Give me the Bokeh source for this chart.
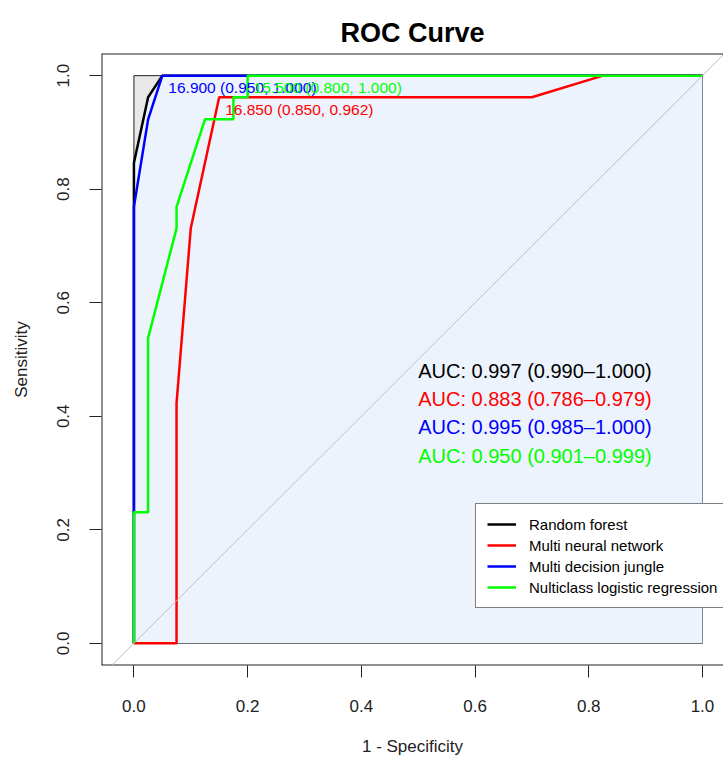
from bokeh.plotting import figure
from bokeh.models import Range1d, Slope, Span, Legend, LegendItem, FixedTicker, PrintfTickFormatter, ColumnDataSource
from bokeh.core.properties import value
from bokeh.embed import file_html
from bokeh.resources import INLINE

FONT = "Liberation Sans"

models = ["Random forest", "Multi neural network", "Multi decision jungle",
          "Nulticlass logistic regression"]
colors = ["#000000", "#FF0000", "#0000FF", "#00FF00"]

# ROC curves: x = 1 - specificity, y = sensitivity
rf_fpr = [0.0, 0.0, 0.025, 0.05, 1.0]
rf_tpr = [0.0, 0.846, 0.962, 1.0, 1.0]
nn_fpr = [0.0, 0.075, 0.075, 0.1, 0.15, 0.7, 0.825, 1.0]
nn_tpr = [0.0, 0.0, 0.423, 0.731, 0.962, 0.962, 1.0, 1.0]
dj_fpr = [0.0, 0.0, 0.025, 0.05, 1.0]
dj_tpr = [0.0, 0.769, 0.923, 1.0, 1.0]
lr_fpr = [0.0, 0.0, 0.025, 0.025, 0.075, 0.075, 0.125, 0.175, 0.175, 0.2, 0.2, 1.0]
lr_tpr = [0.0, 0.231, 0.231, 0.538, 0.731, 0.769, 0.923, 0.923, 0.962, 0.962, 1.0, 1.0]

auc = [0.997, 0.883, 0.995, 0.950]
auc_lo = [0.990, 0.786, 0.985, 0.901]
auc_hi = [1.000, 0.979, 1.000, 0.999]

# best-threshold annotations (neural network, decision jungle, logistic regression)
thr_value = [16.850, 16.900, 15.500]
thr_spec = [0.850, 0.950, 0.800]
thr_sens = [0.962, 1.000, 1.000]
thr_color = ["#FF0000", "#0000FF", "#00FF00"]

ticks = [0.0, 0.2, 0.4, 0.6, 0.8, 1.0]

X0, X1 = -0.057, 1.037
Y0, Y1 = -0.039, 1.039

p = figure(width=723, height=758, output_backend="svg", toolbar_location=None,
           x_range=Range1d(X0, X1), y_range=Range1d(Y0, Y1),
           min_border_left=101, min_border_right=0, min_border_top=53,
           min_border_bottom=93, title="ROC Curve")
p.grid.visible = False
p.outline_line_color = None
p.background_fill_color = "white"
p.border_fill_color = "white"

p.title.align = "center"
p.title.vertical_align = "middle"
p.title.text_font = FONT
p.title.text_font_size = "27px"
p.title.text_font_style = "bold"
p.title.text_color = "black"
p.title.standoff = 10

for ax in (p.xaxis[0], p.yaxis[0]):
    ax.ticker = FixedTicker(ticks=ticks)
    ax.formatter = PrintfTickFormatter(format="%.1f")
    ax.axis_line_color = None
    ax.major_tick_in = 0
    ax.major_tick_out = 12
    ax.major_tick_line_color = "#222222"
    ax.minor_tick_line_color = None
    ax.major_label_text_font = FONT
    ax.major_label_text_font_size = "17px"
    ax.major_label_text_color = "#222222"
    ax.axis_label_text_font = FONT
    ax.axis_label_text_font_size = "17px"
    ax.axis_label_text_font_style = "normal"
    ax.axis_label_text_color = "#222222"

p.xaxis.axis_label = "1 - Specificity"
p.yaxis.axis_label = "Sensitivity"
p.xaxis.major_label_standoff = 22
p.xaxis.axis_label_standoff = 22
p.yaxis.major_label_orientation = "vertical"
p.yaxis.major_label_standoff = 20
p.yaxis.axis_label_standoff = 24

# plot box (left, top, bottom edges; right edge lies outside the window)
p.add_layout(Span(location=X0, dimension="height", line_color="#222222", line_width=2))
p.add_layout(Span(location=Y0, dimension="width", line_color="#222222", line_width=2))
p.add_layout(Span(location=Y1, dimension="width", line_color="#222222", line_width=2))

# max AUC polygon and AUC polygon of the first model
p.quad(left=min(rf_fpr), right=max(rf_fpr), bottom=min(rf_tpr), top=max(rf_tpr),
       fill_color="#E8E8E8", line_color="#222222", line_width=1)
p.patch(x=rf_fpr + [max(rf_fpr)], y=rf_tpr + [min(rf_tpr)],
        fill_color="#EDF3FD", line_color=None)

p.add_layout(Slope(gradient=1, y_intercept=0, line_color="#BEBEBE", line_width=1))

curves = [(rf_fpr, rf_tpr), (nn_fpr, nn_tpr), (dj_fpr, dj_tpr), (lr_fpr, lr_tpr)]
renderers = []
for (fx, ty), c in zip(curves, colors):
    r = p.line(x=fx, y=ty, line_color=c, line_width=2.5)
    renderers.append(r)

# threshold labels
src_thr = ColumnDataSource(dict(
    x=[1 - s for s in thr_spec], y=thr_sens,
    text=[f"{t:.3f} ({s:.3f}, {v:.3f})" for t, s, v in zip(thr_value, thr_spec, thr_sens)],
    color=thr_color))
p.text(x="x", y="y", text="text", text_color="color", source=src_thr,
       text_font=value(FONT), text_font_size="15.5px", text_align="left",
       text_baseline="middle", x_offset=6, y_offset=12)

# AUC texts
auc_y = [0.5, 0.45, 0.4, 0.35]
src_auc = ColumnDataSource(dict(
    x=[0.5] * 4, y=auc_y,
    text=[f"AUC: {a:.3f} ({l:.3f}\u2013{h:.3f})" for a, l, h in zip(auc, auc_lo, auc_hi)],
    color=colors))
p.text(x="x", y="y", text="text", text_color="color", source=src_auc,
       text_font=value(FONT), text_font_size="20px", text_align="left",
       text_baseline="top")

legend = Legend(items=[LegendItem(label=m, renderers=[r]) for m, r in zip(models, renderers)],
                location=(374, 57))
legend.label_text_font = FONT
legend.label_text_font_size = "15px"
legend.label_text_color = "black"
legend.glyph_width = 29
legend.glyph_height = 18
legend.label_height = 18
legend.spacing = 3
legend.padding = 11
legend.margin = 0
legend.label_standoff = 13
legend.border_line_color = "black"
legend.border_line_width = 1
legend.background_fill_color = "white"
legend.background_fill_alpha = 1
p.add_layout(legend, "center")

open("out.html", "w").write(file_html(p, INLINE))
